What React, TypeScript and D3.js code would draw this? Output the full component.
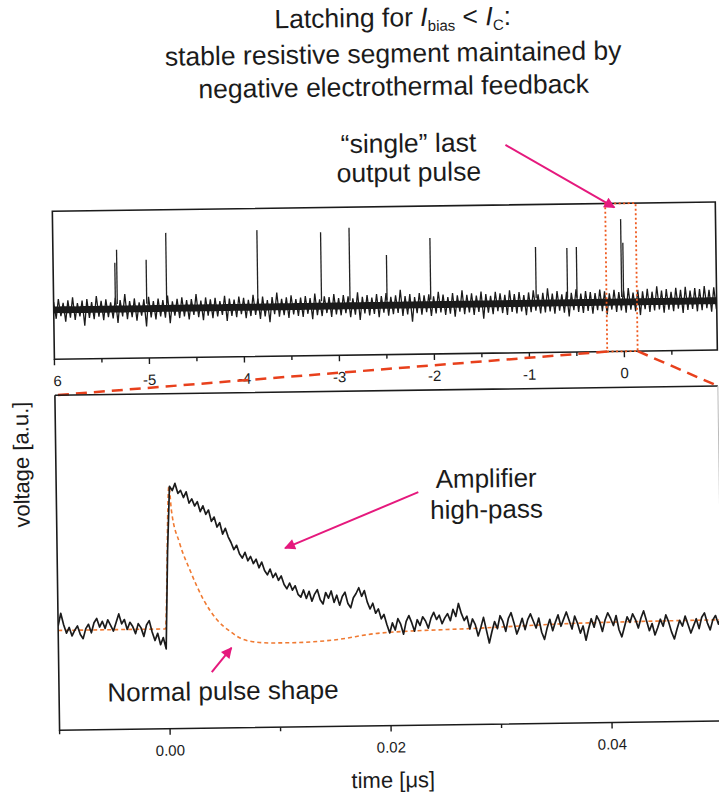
import React from "react";
import * as d3 from "d3";

// upper panel: long record, spikes of the latched state
const topTicks = [-6, -5, -4, -3, -2, -1, 0];
const topTickLabels = ["6", "-5", "-4", "-3", "-2", "-1", "0"];
const topMinorTicks = [-5.5, -4.5, -3.5, -2.5, -1.5, -0.5, 0.5];
const spikeTimes = [-5.35, -5.33, -5.02, -4.81, -3.85, -3.18, -2.88, -2.49, -2.03, -0.92, -0.59, -0.49, -0.02, 0.0];
const spikeHeights = [0.94, 1.2, 0.99, 1.53, 1.56, 1.5, 1.58, 1.02, 1.35, 1.14, 1.11, 1.13, 1.68, 1.2];
const zoomWindow = [-0.18, 0.14];

// envelope of the noise band, one value every 0.05 from -6
const noiseStart = -6;
const noiseStep = 0.05;
const noiseCore = 0.07;
const noiseHigh = [
  0.16, 0.22, 0.14, 0.19, 0.25, 0.13, 0.18, 0.21, 0.15, 0.27,
  0.17, 0.2, 0.14, 0.23, 0.18, 0.3, 0.16, 0.21, 0.13, 0.19,
  0.24, 0.15, 0.2, 0.17, 0.26, 0.14, 0.19, 0.22, 0.16, 0.18,
  0.28, 0.15, 0.21, 0.17, 0.2, 0.13, 0.24, 0.18, 0.16, 0.22,
  0.19, 0.15, 0.25, 0.17, 0.21, 0.14, 0.2, 0.29, 0.16, 0.19,
  0.23, 0.15, 0.18, 0.21, 0.17, 0.26, 0.14, 0.2, 0.18, 0.24,
  0.16, 0.22, 0.19, 0.15, 0.27, 0.18, 0.21, 0.16, 0.23, 0.19,
  0.25, 0.17, 0.2, 0.31, 0.18, 0.22, 0.16, 0.24, 0.19, 0.21,
  0.17, 0.26, 0.2, 0.15, 0.23, 0.18, 0.28, 0.19, 0.22, 0.17,
  0.25, 0.2, 0.16, 0.24, 0.21, 0.18, 0.27, 0.19, 0.23, 0.17,
  0.22, 0.26, 0.18, 0.21, 0.3, 0.19, 0.24, 0.17, 0.22, 0.2,
  0.27, 0.18, 0.23, 0.21, 0.19, 0.26, 0.22, 0.18, 0.25, 0.2,
  0.23, 0.28, 0.19, 0.24, 0.21, 0.26, 0.2, 0.31, 0.22, 0.25,
  0.19, 0.27, 0.23, 0.29, 0.21, 0.26, 0.24, 0.3, 0.22, 0.27,
  0.25,
];
const noiseLow = [
  -0.18, -0.13, -0.24, -0.16, -0.21, -0.14, -0.33, -0.17, -0.2, -0.15,
  -0.22, -0.16, -0.19, -0.28, -0.15, -0.21, -0.17, -0.24, -0.14, -0.36,
  -0.18, -0.22, -0.16, -0.19, -0.3, -0.15, -0.2, -0.17, -0.23, -0.14,
  -0.19, -0.25, -0.16, -0.21, -0.18, -0.15, -0.27, -0.17, -0.2, -0.14,
  -0.22, -0.18, -0.16, -0.24, -0.19, -0.31, -0.15, -0.2, -0.17, -0.23,
  -0.16, -0.19, -0.21, -0.15, -0.26, -0.18, -0.2, -0.14, -0.22, -0.17,
  -0.19, -0.15, -0.23, -0.18, -0.29, -0.16, -0.2, -0.17, -0.24, -0.15,
  -0.21, -0.18, -0.16, -0.22, -0.19, -0.34, -0.17, -0.2, -0.15, -0.23,
  -0.18, -0.16, -0.21, -0.19, -0.25, -0.15, -0.2, -0.17, -0.22, -0.16,
  -0.3, -0.18, -0.21, -0.15, -0.19, -0.23, -0.17, -0.2, -0.16, -0.24,
  -0.18, -0.15, -0.21, -0.19, -0.17, -0.22, -0.16, -0.2, -0.28, -0.15,
  -0.19, -0.21, -0.17, -0.23, -0.16, -0.18, -0.25, -0.15, -0.2, -0.17,
  -0.22, -0.16, -0.19, -0.27, -0.15, -0.21, -0.18, -0.16, -0.23, -0.17,
  -0.2, -0.15, -0.24, -0.18, -0.16, -0.21, -0.19, -0.15, -0.22, -0.17,
  -0.19,
];

// lower panel: zoom on the last pulse
const bottomTicks = [0, 0.02, 0.04];
const bottomTickLabels = ["0.00", "0.02", "0.04"];
const bottomMinorTicks = [-0.01, 0.01, 0.03, 0.05];

// measured trace, one value every 0.00025 us from -0.01
const traceStart = -0.01;
const traceStep = 0.00025;
const traceValues = [
  // before the pulse
  0.03, 0.12, 0.04, -0.02, 0.02, -0.04, 0.0, 0.03, -0.03, -0.06,
  0.01, 0.04, -0.02, 0.05, 0.08, 0.02, 0.06, 0.01, 0.07, 0.03,
  -0.01, 0.05, 0.11, 0.04, 0.07, 0.0, 0.05, 0.02, -0.03, 0.04,
  0.01, -0.05, 0.03, 0.06, -0.02, -0.08, -0.03, -0.11, -0.06, -0.14,
  // pulse and slow high-pass tail
  0.55, 1.0, 0.97, 1.02, 0.95, 0.97, 0.92, 0.96, 0.88, 0.91,
  0.86, 0.89, 0.82, 0.86, 0.8, 0.83, 0.75, 0.78, 0.71, 0.74,
  0.66, 0.7, 0.64, 0.6, 0.55, 0.58, 0.52, 0.49, 0.53, 0.47,
  0.5, 0.45, 0.48, 0.42, 0.46, 0.4, 0.37, 0.41, 0.35, 0.38,
  0.33, 0.36, 0.3, 0.27, 0.31, 0.26, 0.29, 0.23, 0.21, 0.26,
  0.2, 0.25, 0.18, 0.23, 0.26, 0.19, 0.16, 0.24, 0.2, 0.25,
  0.17, 0.22, 0.15, 0.21, 0.24, 0.16, 0.13, 0.2, 0.23, 0.27,
  0.21, 0.25, 0.17, 0.12, 0.16, 0.09, 0.12, 0.05, 0.08, 0.01,
  // back on the baseline
  -0.05, 0.02, -0.03, 0.05, 0.01, -0.06, 0.03, 0.07, 0.02, -0.04,
  0.04, 0.0, 0.06, 0.03, -0.02, 0.05, 0.09, 0.04, 0.07, 0.01,
  0.05, 0.08, 0.03, 0.11, 0.06, 0.15, 0.08, 0.03, 0.06, -0.03,
  0.04, 0.0, -0.08, -0.02, 0.05, -0.04, -0.13, -0.05, 0.02, -0.03,
  0.06, 0.02, -0.05, 0.04, 0.08, 0.01, -0.07, -0.02, 0.04, -0.04,
  0.03, 0.07, 0.02, -0.03, 0.04, -0.06, -0.11, -0.03, 0.03, -0.05,
  0.01, 0.06, -0.02, 0.03, 0.08, 0.02, -0.04, 0.05, 0.0, -0.07,
  -0.02, -0.12, -0.04, 0.03, -0.03, 0.05, 0.01, -0.06, 0.02, 0.07,
  0.03, -0.02, 0.05, -0.05, -0.1, -0.03, 0.04, 0.0, 0.06, 0.02,
  -0.04, 0.03, 0.08, 0.01, -0.06, -0.01, -0.09, -0.04, 0.02, -0.03,
  0.05, 0.0, -0.07, -0.12, -0.05, 0.01, -0.03, 0.04, -0.02, -0.08,
  -0.03, 0.02, -0.05, 0.03, 0.06, -0.01, -0.06, 0.01, 0.04, -0.02,
  0.03,
];

// normal pulse shape (dashed)
const normalTimes = [-0.01, -0.0003, 0.0002, 0.0004, 0.0011, 0.002, 0.0032, 0.0044, 0.0056, 0.0065, 0.0076, 0.0094, 0.0112, 0.0149, 0.0191, 0.0282, 0.0372, 0.05];
const normalValues = [0, 0, 1.0, 0.83, 0.6, 0.41, 0.2, 0.058, -0.026, -0.073, -0.098, -0.109, -0.109, -0.094, -0.05, -0.025, 0.0, 0.01];

const font = "'Liberation Sans', Arial, sans-serif";
const ink = "#1b1b1b";
const pink = "#e5197d";
const red = "#e8401c";

export default function App() {
  const xTop = d3.scaleLinear().domain([-6, 1]).range([55, 720]);
  const yTop = d3.scaleLinear().domain([-1, 2]).range([355, 207]);
  const xBot = d3.scaleLinear().domain([-0.01, 0.05]).range([55, 718]);
  const yBot = d3.scaleLinear().domain([-0.7, 1.65]).range([726, 391]);

  const topL = 55, topR = 718, topT = 207, topB = 355;
  const botL = 55, botR = 718, botT = 391, botB = 726;

  // dense noise: zig-zag between the upper and lower envelope
  const zig: [number, number][] = [];
  noiseHigh.forEach((h, i) => {
    const t = noiseStart + i * noiseStep;
    zig.push([t, h]);
    zig.push([t + noiseStep / 2, noiseLow[i]]);
  });
  const zigPath =
    d3
      .line<[number, number]>()
      .x((d) => xTop(d[0]))
      .y((d) => yTop(d[1]))(zig) || "";
  const corePath =
    d3
      .area<number>()
      .x((_, i) => xTop(noiseStart + i * noiseStep))
      .y0((_, i) => yTop(Math.max(noiseLow[i] * 0.5, -noiseCore)))
      .y1((d) => yTop(Math.min(d * 0.5, noiseCore)))(noiseHigh) || "";

  const tracePath =
    d3
      .line<number>()
      .x((_, i) => xBot(traceStart + i * traceStep))
      .y((d) => yBot(d))(traceValues) || "";

  const normalPath =
    d3
      .line<number>()
      .x((d) => xBot(d))
      .y((_, i) => yBot(normalValues[i]))
      .curve(d3.curveMonotoneX)(normalTimes) || "";

  const zx0 = xTop(zoomWindow[0]);
  const zx1 = xTop(zoomWindow[1]);

  return (
    <svg
      width={719}
      height={795}
      style={{ position: "absolute", left: 0, top: 0, background: "#fff" }}
      fontFamily={font}
    >
      <defs>
        <marker id="head" viewBox="0 0 10 10" refX="9" refY="5" markerWidth="12" markerHeight="11" markerUnits="userSpaceOnUse" orient="auto">
          <path d="M0,0 L10,5 L0,10 Z" fill={pink} />
        </marker>
        <clipPath id="clipTop">
          <rect x={topL} y={topT} width={topR - topL} height={topB - topT} />
        </clipPath>
        <clipPath id="clipBot">
          <rect x={botL} y={botT} width={botR - botL} height={botB - botT} />
        </clipPath>
      </defs>
      <rect width={719} height={795} fill="#fff" />
      <g transform="rotate(-0.8 360 400)">
        {/* title */}
        <g fill={ink} fontSize={26.5} textAnchor="middle">
          <text x={398} y={27}>
            Latching for <tspan fontStyle="italic">I</tspan>
            <tspan fontSize={15} dy={5}>bias</tspan>
            <tspan dy={-5}> &lt; </tspan>
            <tspan fontStyle="italic">I</tspan>
            <tspan fontSize={15} dy={5}>C</tspan>
            <tspan dy={-5}>:</tspan>
          </text>
          <text x={398} y={63}>stable resistive segment maintained by</text>
          <text x={398} y={96}>negative electrothermal feedback</text>
          <text x={412} y={153}>“single” last</text>
          <text x={412} y={182}>output pulse</text>
        </g>

        {/* upper panel */}
        <g clipPath="url(#clipTop)">
          <path d={corePath} fill={ink} />
          <path d={zigPath} fill="none" stroke={ink} strokeWidth={1.3} />
          {spikeTimes.map((t, i) => (
            <line key={i} x1={xTop(t)} x2={xTop(t)} y1={yTop(0.1)} y2={yTop(spikeHeights[i])} stroke="#222" strokeWidth={1.3} />
          ))}
        </g>
        <rect x={topL} y={topT} width={topR - topL} height={topB - topT} fill="none" stroke={ink} strokeWidth={1.6} />
        {topTicks.map((t, i) => (
          <g key={t}>
            <line x1={xTop(t)} x2={xTop(t)} y1={topB} y2={topB + 6} stroke={ink} strokeWidth={1.4} />
            <text x={xTop(t) + (i === 0 ? 3 : 0)} y={topB + 27} fontSize={15} textAnchor="middle" fill={ink}>
              {topTickLabels[i]}
            </text>
          </g>
        ))}
        {topMinorTicks.map((t) => (
          <line key={t} x1={xTop(t)} x2={xTop(t)} y1={topB} y2={topB + 4} stroke={ink} strokeWidth={1.4} />
        ))}

        {/* zoom window and guide lines */}
        <rect x={zx0} y={topT} width={zx1 - zx0} height={topB - topT} fill="none" stroke="#ef5a1f" strokeWidth={1.8} strokeDasharray="2 2.5" />
        <line x1={zx0} y1={topB} x2={botL} y2={botT} stroke={red} strokeWidth={2.5} strokeDasharray="11 7" />
        <line x1={zx1} y1={topB} x2={botR} y2={botT} stroke={red} strokeWidth={2.5} strokeDasharray="11 7" />

        {/* lower panel */}
        <g clipPath="url(#clipBot)">
          <path d={normalPath} fill="none" stroke="#f07a32" strokeWidth={1.6} strokeDasharray="4 3" />
          <path d={tracePath} fill="none" stroke={ink} strokeWidth={1.7} strokeLinejoin="round" />
        </g>
        <path d={`M${botL},${botT} L${botR},${botT} M${botL},${botT} L${botL},${botB} L${botR},${botB}`} fill="none" stroke={ink} strokeWidth={1.6} />
        <line x1={botR} x2={botR} y1={botT} y2={botB} stroke="#bbb" strokeWidth={1} />
        {bottomTicks.map((t, i) => (
          <g key={t}>
            <line x1={xBot(t)} x2={xBot(t)} y1={botB} y2={botB + 6} stroke={ink} strokeWidth={1.4} />
            <text x={xBot(t)} y={botB + 27} fontSize={15} textAnchor="middle" fill={ink}>
              {bottomTickLabels[i]}
            </text>
          </g>
        ))}
        {bottomMinorTicks.map((t) => (
          <line key={t} x1={xBot(t)} x2={xBot(t)} y1={botB} y2={botB + 4} stroke={ink} strokeWidth={1.4} />
        ))}
        <text x={388} y={788} fontSize={22} textAnchor="middle" fill={ink}>
          time [μs]
        </text>
        <text transform="translate(28,460) rotate(-90)" fontSize={22} textAnchor="middle" fill={ink}>
          voltage [a.u.]
        </text>

        {/* annotations */}
        <g fill={ink} fontSize={26} textAnchor="middle">
          <text x={485} y={489}>Amplifier</text>
          <text x={485} y={520}>high-pass</text>
          <text x={219} y={698}>Normal pulse shape</text>
        </g>
        <g stroke={pink} strokeWidth={2} markerEnd="url(#head)">
          <line x1={509} y1={147} x2={617} y2={211} />
          <line x1={417} y1={493} x2={283} y2={547} />
          <line x1={208} y1={670} x2={228} y2={646} />
        </g>
      </g>
    </svg>
  );
}
